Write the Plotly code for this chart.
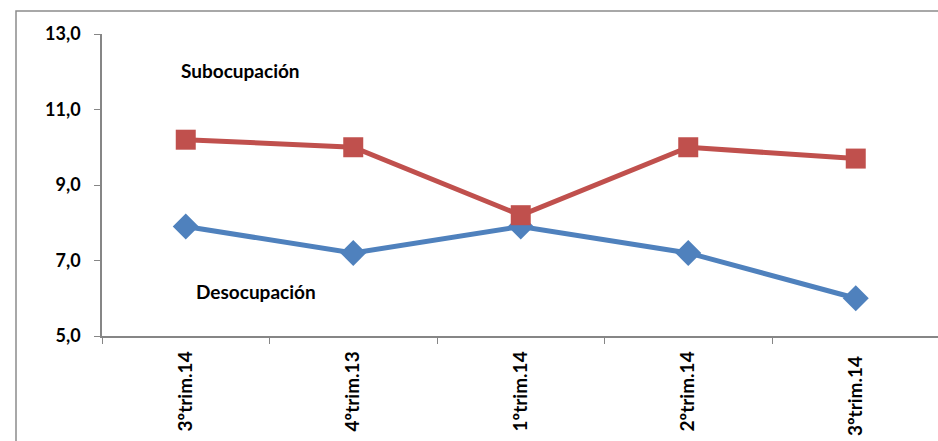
import plotly.graph_objects as go

categories = ["3ºtrim.14", "4ºtrim.13", "1ºtrim.14", "2ºtrim.14", "3ºtrim.14 "]
subocupacion = [10.2, 10.0, 8.2, 10.0, 9.7]
desocupacion = [7.9, 7.2, 7.9, 7.2, 6.0]
y_ticks = [5, 7, 9, 11, 13]
y_labels = ["5,0", "7,0", "9,0", "11,0", "13,0"]

W, H = 938, 441
ml, mr, mt, mb = 102, 0, 34, 105
pw, ph = W - ml - mr, H - mt - mb

def px2paper_x(px):
    return (px - ml) / pw

def px2paper_y(py):
    return (H - mb - py) / ph

FAM = "Lato, 'Open Sans', sans-serif"

fig = go.Figure()
fig.add_trace(go.Scatter(
    x=categories, y=desocupacion, mode="lines+markers",
    line=dict(color="#4F81BD", width=5),
    marker=dict(symbol="diamond", size=20, color="#4F81BD"),
    showlegend=False, cliponaxis=False))
fig.add_trace(go.Scatter(
    x=categories, y=subocupacion, mode="lines+markers",
    line=dict(color="#C0504D", width=5),
    marker=dict(symbol="square", size=20, color="#C0504D"),
    showlegend=False, cliponaxis=False))

afont = dict(family=FAM, size=19, color="black", weight="bold")

fig.add_annotation(x=px2paper_x(240), y=px2paper_y(71), xref="paper", yref="paper",
                   xanchor="center", yanchor="middle",
                   text="Subocupación", showarrow=False, font=afont)
fig.add_annotation(x=px2paper_x(256), y=px2paper_y(291), xref="paper", yref="paper",
                   xanchor="center", yanchor="middle",
                   text="Desocupación", showarrow=False, font=afont)

fig.add_shape(type="rect", xref="paper", yref="paper",
              x0=px2paper_x(16), x1=px2paper_x(960),
              y0=px2paper_y(470), y1=px2paper_y(11),
              line=dict(color="#8c8c8c", width=1.5), fillcolor="rgba(0,0,0,0)")

fig.update_layout(
    width=W, height=H,
    margin=dict(l=ml, r=mr, t=mt, b=mb),
    paper_bgcolor="white", plot_bgcolor="white",
    font=dict(family=FAM, color="black"),
    xaxis=dict(
        type="category", range=[-0.5, (W - ml) / 167.5 - 0.5],
        tickson="boundaries", ticks="outside", ticklen=6, tickcolor="#868686",
        showline=True, linecolor="#868686", linewidth=1.5,
        showgrid=False, zeroline=False, tickangle=-90,
        ticklabelstandoff=6,
        tickfont=dict(family=FAM, size=19, color="black", weight="bold"),
    ),
    yaxis=dict(
        range=[5, 13], tickvals=y_ticks, ticktext=y_labels,
        ticks="outside", ticklen=6, tickcolor="#868686",
        showline=True, linecolor="#868686", linewidth=1.5,
        showgrid=False, zeroline=False,
        ticklabelstandoff=10,
        tickfont=dict(family=FAM, size=18, color="black", weight="bold"),
    ),
)

fig.write_html("out.html", config={"displayModeBar": False},
               post_script="document.body.style.margin='0';document.body.style.padding='0';")
